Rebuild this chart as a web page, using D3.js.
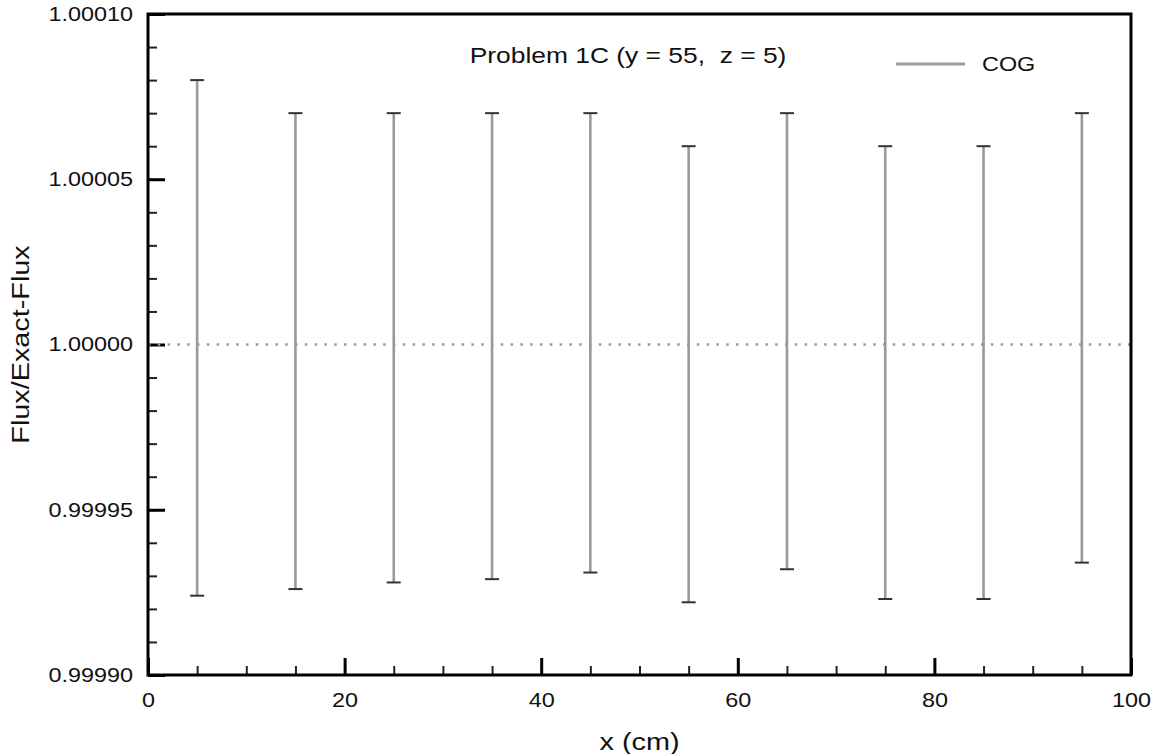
<!doctype html>
<html lang="en">
  <head>
    <meta charset="utf-8">
    <title>Problem 1C - Flux/Exact-Flux</title>
    <script src="https://d3js.org/d3.v7.min.js"></script>
    <style>
      body { margin: 0; background: #fff; }
      svg text { font-family: "Liberation Sans", Arial, Helvetica, sans-serif; fill: #111; white-space: pre; }
    </style>
  </head>
  <body>
    <svg width="1157" height="754"></svg>
    <script>
      // error bar data
      var xPos  = [5, 15, 25, 35, 45, 55, 65, 75, 85, 95];
      var upper = [1.00008, 1.00007, 1.00007, 1.00007, 1.00007, 1.00006, 1.00007, 1.00006, 1.00006, 1.00007];
      var lower = [0.999924, 0.999926, 0.999928, 0.999929, 0.999931, 0.999922, 0.999932, 0.999923, 0.999923, 0.999934];

      var xMajor = [0, 20, 40, 60, 80, 100];
      var xMinor = d3.range(0, 101, 5);
      var yMajor = [0.99990, 0.99995, 1.00000, 1.00005, 1.00010];
      var yMinor = d3.range(0, 21).map(function(i) { return 0.9999 + i * 0.00001; });

      var title = "Problem 1C (y = 55,  z = 5)";
      var seriesName = "COG";

      var svg = d3.select("svg"),
          margin = {top: 14, right: 26, bottom: 79, left: 148},
          width = +svg.attr("width") - margin.left - margin.right,
          height = +svg.attr("height") - margin.top - margin.bottom,
          g = svg.append("g").attr("transform", "translate(" + margin.left + "," + margin.top + ")");

      var sx = 1.2; // glyphs in the original are a bit wide

      var x = d3.scaleLinear().domain([0, 100]).range([0, width]);
      var y = d3.scaleLinear().domain([0.9999, 1.0001]).range([height, 0]);

      // minor ticks
      g.append("g")
          .attr("transform", "translate(0," + height + ")")
          .call(d3.axisBottom(x).tickValues(xMinor).tickSize(-9).tickFormat(""))
          .call(function(a) { a.select(".domain").remove(); a.selectAll("line").attr("stroke", "#222").attr("stroke-width", 2); });
      g.append("g")
          .call(d3.axisLeft(y).tickValues(yMinor).tickSize(-9).tickFormat(""))
          .call(function(a) { a.select(".domain").remove(); a.selectAll("line").attr("stroke", "#222").attr("stroke-width", 2); });

      // major ticks + labels
      g.append("g")
          .attr("transform", "translate(0," + height + ")")
          .call(d3.axisBottom(x).tickValues(xMajor).tickSize(-17).tickPadding(18).tickFormat(d3.format("d")))
          .call(function(a) {
            a.select(".domain").remove();
            a.selectAll("line").attr("stroke", "#000").attr("stroke-width", 3);
            a.selectAll("text").attr("font-size", "19.5px").attr("fill", "#111")
              .attr("font-family", "Liberation Sans, Arial, sans-serif")
              .attr("transform", "scale(" + sx + ",1)");
          });
      g.append("g")
          .call(d3.axisLeft(y).tickValues(yMajor).tickSize(-17).tickPadding(12.5).tickFormat(d3.format(".5f")))
          .call(function(a) {
            a.select(".domain").remove();
            a.selectAll("line").attr("stroke", "#000").attr("stroke-width", 3);
            a.selectAll("text").attr("font-size", "19.5px").attr("fill", "#111")
              .attr("font-family", "Liberation Sans, Arial, sans-serif")
              .attr("transform", "scale(" + sx + ",1)");
          });

      // dotted reference line at 1
      g.append("line")
          .attr("x1", 0).attr("x2", width)
          .attr("y1", y(1)).attr("y2", y(1))
          .attr("stroke", "#9a9a9a")
          .attr("stroke-width", 2.5)
          .attr("stroke-dasharray", "2.5,7.3");

      // error bars
      var bars = g.selectAll(".bar")
        .data(xPos.map(function(d, i) { return {x: d, lo: lower[i], hi: upper[i]}; }))
        .enter().append("g").attr("class", "bar");
      bars.append("line")
          .attr("x1", function(d) { return x(d.x); })
          .attr("x2", function(d) { return x(d.x); })
          .attr("y1", function(d) { return y(d.lo); })
          .attr("y2", function(d) { return y(d.hi); })
          .attr("stroke", "#999")
          .attr("stroke-width", 2.6);
      ["lo", "hi"].forEach(function(k) {
        bars.append("line")
            .attr("x1", function(d) { return x(d.x) - 7; })
            .attr("x2", function(d) { return x(d.x) + 7; })
            .attr("y1", function(d) { return y(d[k]); })
            .attr("y2", function(d) { return y(d[k]); })
            .attr("stroke", "#333")
            .attr("stroke-width", 2);
      });

      // frame
      g.append("rect")
          .attr("width", width).attr("height", height)
          .attr("fill", "none")
          .attr("stroke", "#000")
          .attr("stroke-width", 3);

      // title + legend
      g.append("text")
          .attr("transform", "translate(" + (628 - margin.left) + "," + (63 - margin.top) + ") scale(" + sx + ",1)")
          .attr("text-anchor", "middle")
          .attr("xml:space", "preserve")
          .attr("font-size", "22px")
          .text(title);
      g.append("line")
          .attr("x1", 896 - margin.left).attr("x2", 965 - margin.left)
          .attr("y1", 64 - margin.top).attr("y2", 64 - margin.top)
          .attr("stroke", "#999").attr("stroke-width", 3);
      g.append("text")
          .attr("transform", "translate(" + (982 - margin.left) + "," + (71 - margin.top) + ") scale(" + sx + ",1)")
          .attr("font-size", "19.5px")
          .text(seriesName);

      // axis titles
      svg.append("text")
          .attr("transform", "translate(" + (margin.left + width / 2) + ",750) scale(" + sx + ",1)")
          .attr("text-anchor", "middle")
          .attr("font-size", "24px")
          .text("x (cm)");
      svg.append("text")
          .attr("transform", "translate(29," + (margin.top + height / 2) + ") rotate(-90) scale(" + sx + ",1)")
          .attr("text-anchor", "middle")
          .attr("font-size", "24px")
          .text("Flux/Exact-Flux");
    </script>
  </body>
</html>
